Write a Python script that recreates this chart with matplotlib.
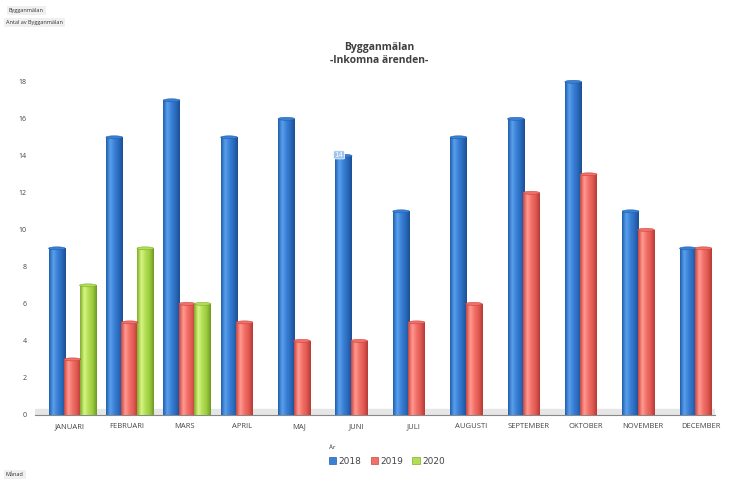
import numpy as np
import matplotlib.pyplot as plt
from matplotlib.colors import LinearSegmentedColormap
from matplotlib.patches import Ellipse, Patch

months = ['JANUARI', 'FEBRUARI', 'MARS', 'APRIL', 'MAJ', 'JUNI', 'JULI',
          'AUGUSTI', 'SEPTEMBER', 'OKTOBER', 'NOVEMBER', 'DECEMBER']
years = ['2018', '2019', '2020']
v2018 = [9, 15, 17, 15, 16, 14, 11, 15, 16, 18, 11, 9]
v2019 = [3, 5, 6, 5, 4, 4, 5, 6, 12, 13, 10, 9]
v2020 = [7, 9, 6, None, None, None, None, None, None, None, None, None]
yticks = [0, 2, 4, 6, 8, 10, 12, 14, 16, 18]

# cylinder shading: dark edge -> light -> base -> dark edge
shades = {
    '2018': ['#1f5fae', '#5aa0ec', '#3a80d6', '#2a6bbd', '#1b4f95'],
    '2019': ['#c9453f', '#ff9a92', '#f27068', '#e05a53', '#b83a35'],
    '2020': ['#7fae2a', '#d8f584', '#b2de55', '#9ccb40', '#6f9a22'],
}
offsets = [-0.22, 0.05, 0.32]
width = 0.29

fig = plt.figure(figsize=(7.47, 4.83), dpi=100)
ax = fig.add_axes([0.047, 0.141, 0.91, 0.705])
ax.set_xlim(-0.6, 11.25)
ax.set_ylim(0, 18.4)

# grey floor
ax.axhspan(0, 0.3, color='#e6e6e6', zorder=0)

grad = np.linspace(0, 1, 64).reshape(1, -1)
x = np.arange(len(months))
for yr, vals, off in zip(years, [v2018, v2019, v2020], offsets):
    cmap = LinearSegmentedColormap.from_list(yr, shades[yr])
    for i, v in enumerate(vals):
        if v is None:
            continue
        x0 = x[i] + off - width / 2
        bar = ax.bar(x0, v, width=width, align='edge', color=shades[yr][2],
                     zorder=2, linewidth=0)[0]
        im = ax.imshow(grad, extent=(x0, x0 + width, 0, v), aspect='auto',
                       cmap=cmap, zorder=3)
        im.set_clip_path(bar)
        ax.add_patch(Ellipse((x0 + width / 2, v), width, 0.16,
                             facecolor=shades[yr][2], edgecolor=shades[yr][0],
                             linewidth=0.4, zorder=4))

ax.text(5 + offsets[0] - 0.08, 14.05, '14', fontsize=5, color='white',
        ha='center', va='center', zorder=5,
        bbox=dict(boxstyle='round,pad=0.15', fc='#9cc4ee', ec='white', lw=0.5))

ax.set_xticks(x)
ax.set_xticklabels(months, fontsize=5.5, color='#444444', family='Open Sans')
ax.set_yticks(yticks)
ax.set_yticklabels([str(t) for t in yticks], fontsize=5, color='#444444',
                   family='Open Sans')
ax.tick_params(length=0, pad=6)
ax.tick_params(axis='y', pad=6)
for s in ['top', 'right', 'left']:
    ax.spines[s].set_visible(False)
ax.spines['bottom'].set_color('#888888')
ax.spines['bottom'].set_linestyle((0, (2, 1)))
ax.spines['bottom'].set_linewidth(0.8)

fig.text(0.508, 0.888, 'Bygganmälan\n-Inkomna ärenden-', ha='center',
         va='center', fontsize=7.5, fontweight='bold', color='#404040',
         family='Open Sans', linespacing=1.2)

fig.text(0.012, 0.978, 'Bygganmälan', fontsize=4, color='#333333',
         family='Open Sans', va='center',
         bbox=dict(fc='#f0f0f0', ec='none', pad=1.5))
fig.text(0.008, 0.953, 'Antal av Bygganmälan', fontsize=4, color='#333333',
         family='Open Sans', va='center',
         bbox=dict(fc='#f0f0f0', ec='none', pad=1.5))
fig.text(0.008, 0.017, 'Månad', fontsize=4, color='#333333',
         family='Open Sans', va='center',
         bbox=dict(fc='#f0f0f0', ec='none', pad=1.5))
fig.text(0.44, 0.073, 'År', fontsize=4.5, color='#333333',
         family='Open Sans', va='center')

handles = [Patch(facecolor=shades[y][2], edgecolor=shades[y][0], linewidth=0.5)
           for y in years]
fig.legend(handles, years, loc='center', bbox_to_anchor=(0.518, 0.045),
           ncol=3, frameon=False, fontsize=6.5, handlelength=0.8,
           handleheight=0.8, handletextpad=0.3, columnspacing=1.0,
           labelcolor='#444444')

fig.savefig('out.png', dpi=100)
